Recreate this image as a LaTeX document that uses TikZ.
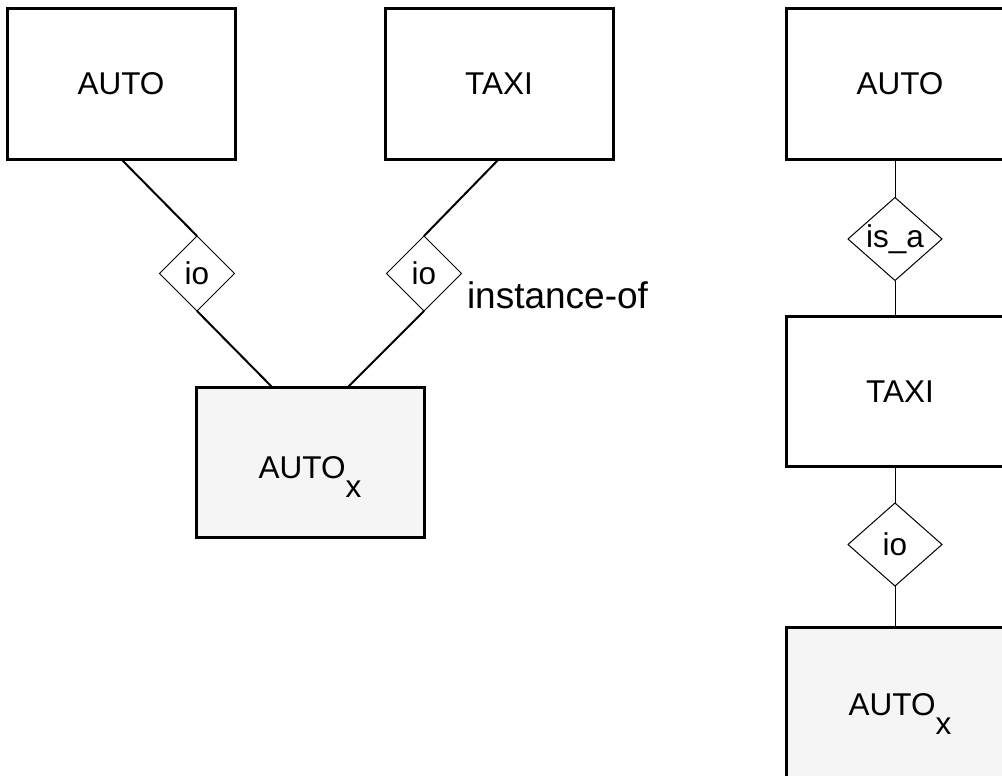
\documentclass[tikz,border=0pt]{standalone}
\usepackage{fontspec}
\setmainfont{Liberation Sans}
\usetikzlibrary{shapes.geometric}
\definecolor{instfill}{RGB}{245,245,245}
\begin{document}
\begin{tikzpicture}[x=1pt,y=-1pt,
  ent/.style={draw,line width=3pt,minimum width=228pt,minimum height=150pt,inner sep=0pt,outer sep=0pt,font=\fontsize{31.5}{38}\selectfont},
  inst/.style={ent,fill=instfill,text height=33pt,text depth=0pt},
  rel/.style={diamond,draw,fill=white,line width=1pt,inner sep=0pt,outer sep=0pt,font=\fontsize{31.5}{38}\selectfont},
  relL/.style={rel,minimum width=75pt,minimum height=75pt},
  relR/.style={rel,minimum width=94pt,minimum height=83pt,shape aspect=1.13},
  thickcon/.style={line width=2pt},
  thincon/.style={line width=1pt},
  note/.style={font=\fontsize{37}{44}\selectfont,inner sep=0pt,outer sep=0pt,anchor=base west}]
\useasboundingbox (0,0) rectangle (1002,776);
\clip (0,0) rectangle (1002,776);
% left diagram
\node[ent]  (auto1) at (121,84) {AUTO};
\node[ent]  (taxi1) at (499,84) {TAXI};
\node[inst] (ax1)   at (310,462) {AUTO\raisebox{-18.5pt}{x}};
\node[relL] (io1)   at (197,273.5) {io};
\node[relL] (io2)   at (424,273.5) {io};
\node[note] (lbl)   at (467,308) {instance-of};
\draw[thickcon] (auto1.south) -- (io1.north);
\draw[thickcon] (io1.south) -- ([xshift=-38pt]ax1.north);
\draw[thickcon] (taxi1.south) -- (io2.north);
\draw[thickcon] (io2.south) -- ([xshift=38pt]ax1.north);
% right diagram
\node[ent]  (auto2) at (900,84) {AUTO};
\node[relR] (isa)   at (895,239) {is\_a};
\node[ent]  (taxi2) at (900,391.5) {TAXI};
\node[relR] (io3)   at (895,544.5) {io};
\node[inst,minimum height=156pt,text height=21pt] (ax2) at (900,705) {AUTO\raisebox{-18.5pt}{x}};
\draw[thincon] (isa.north) -- (isa.north |- auto2.south);
\draw[thincon] (isa.south) -- (isa.south |- taxi2.north);
\draw[thincon] (io3.north) -- (io3.north |- taxi2.south);
\draw[thincon] (io3.south) -- (io3.south |- ax2.north);
\end{tikzpicture}
\end{document}
